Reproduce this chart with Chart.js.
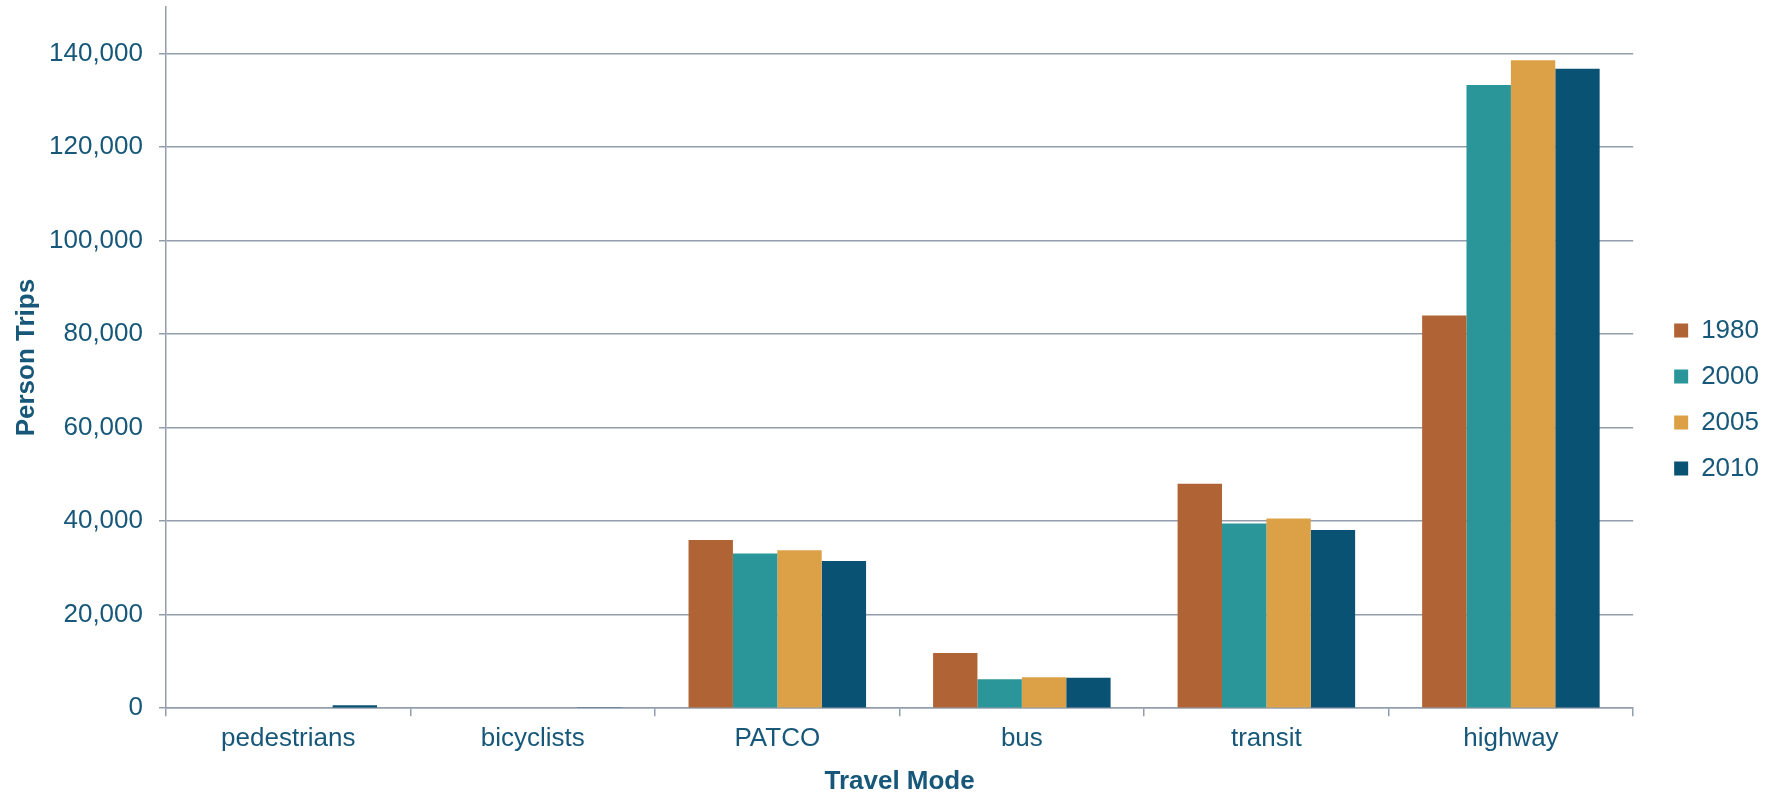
<!DOCTYPE html>
<html>
<head>
<meta charset="utf-8">
<script src="https://cdn.jsdelivr.net/npm/chart.js@4/dist/chart.umd.min.js"></script>
<style>
  html, body { margin: 0; padding: 0; background: #fff; }
  #wrap { width: 1773px; height: 792px; }
</style>
</head>
<body>
<div id="wrap"><canvas id="chart" width="1773" height="792"></canvas></div>
<script>
const modes = ["pedestrians", "bicyclists", "PATCO", "bus", "transit", "highway"];
const years = ["1980", "2000", "2005", "2010"];
const trips1980 = [0, 0, 36000, 11800, 48000, 84000];
const trips2000 = [0, 0, 33100, 6200, 39500, 133300];
const trips2005 = [0, 0, 33800, 6600, 40600, 138600];
const trips2010 = [650, 200, 31500, 6500, 38100, 136800];
const yTicks = [0, 20000, 40000, 60000, 80000, 100000, 120000, 140000];

const colors = ["#B06334", "#2A9699", "#DCA046", "#0A5274"];
const textColor = "#17587A";
const gridColor = "#929EAB";

Chart.defaults.font.family = "'Liberation Sans', Arial, sans-serif";
Chart.defaults.font.size = 26;
Chart.defaults.color = textColor;

const series = [trips1980, trips2000, trips2005, trips2010];

new Chart(document.getElementById("chart"), {
  type: "bar",
  data: {
    labels: modes,
    datasets: series.map((data, i) => ({
      label: years[i],
      data,
      backgroundColor: colors[i],
      borderWidth: 0,
      categoryPercentage: 0.726,
      barPercentage: 1.0,
    })),
  },
  options: {
    responsive: false,
    animation: false,
    layout: { padding: { top: 7, right: 4, left: 0, bottom: 0 } },
    plugins: {
      tooltip: { enabled: false },
      legend: {
        position: "right",
        labels: {
          boxWidth: 14,
          boxHeight: 14,
          padding: 20,
          color: textColor,
          font: { size: 26 },
        },
      },
    },
    scales: {
      x: {
        grid: {
          drawOnChartArea: false,
          drawTicks: true,
          tickLength: 8,
          color: gridColor,
          lineWidth: 1.5,
        },
        border: { color: gridColor, width: 1.5 },
        ticks: { padding: 10, font: { size: 26, lineHeight: 1 } },
        title: {
          display: true,
          text: "Travel Mode",
          color: textColor,
          font: { size: 26, weight: "bold", lineHeight: 0.8 },
          padding: { top: 9, bottom: 0 },
        },
      },
      y: {
        min: 0,
        max: 150000,
        afterBuildTicks: (axis) => {
          axis.ticks = yTicks.map((v) => ({ value: v }));
        },
        afterFit: (scale) => {
          scale.paddingTop = 0;
          scale.paddingBottom = 0;
        },
        grid: {
          color: gridColor,
          lineWidth: 1.5,
          tickLength: 7,
        },
        border: { color: gridColor, width: 1.5 },
        ticks: {
          padding: 16,
          font: { size: 26 },
          callback: (v) => v.toLocaleString("en-US"),
        },
        title: {
          display: true,
          text: "Person Trips",
          color: textColor,
          font: { size: 26, weight: "bold", lineHeight: 1 },
          padding: { top: 14, bottom: -7 },
        },
      },
      // empty axis that only keeps the legend away from the plot
      gap: {
        type: "linear",
        position: "right",
        display: true,
        grid: { display: false },
        border: { display: false },
        ticks: { display: false },
        afterFit: (scale) => {
          scale.width = 21;
        },
      },
    },
  },
});
</script>
</body>
</html>
